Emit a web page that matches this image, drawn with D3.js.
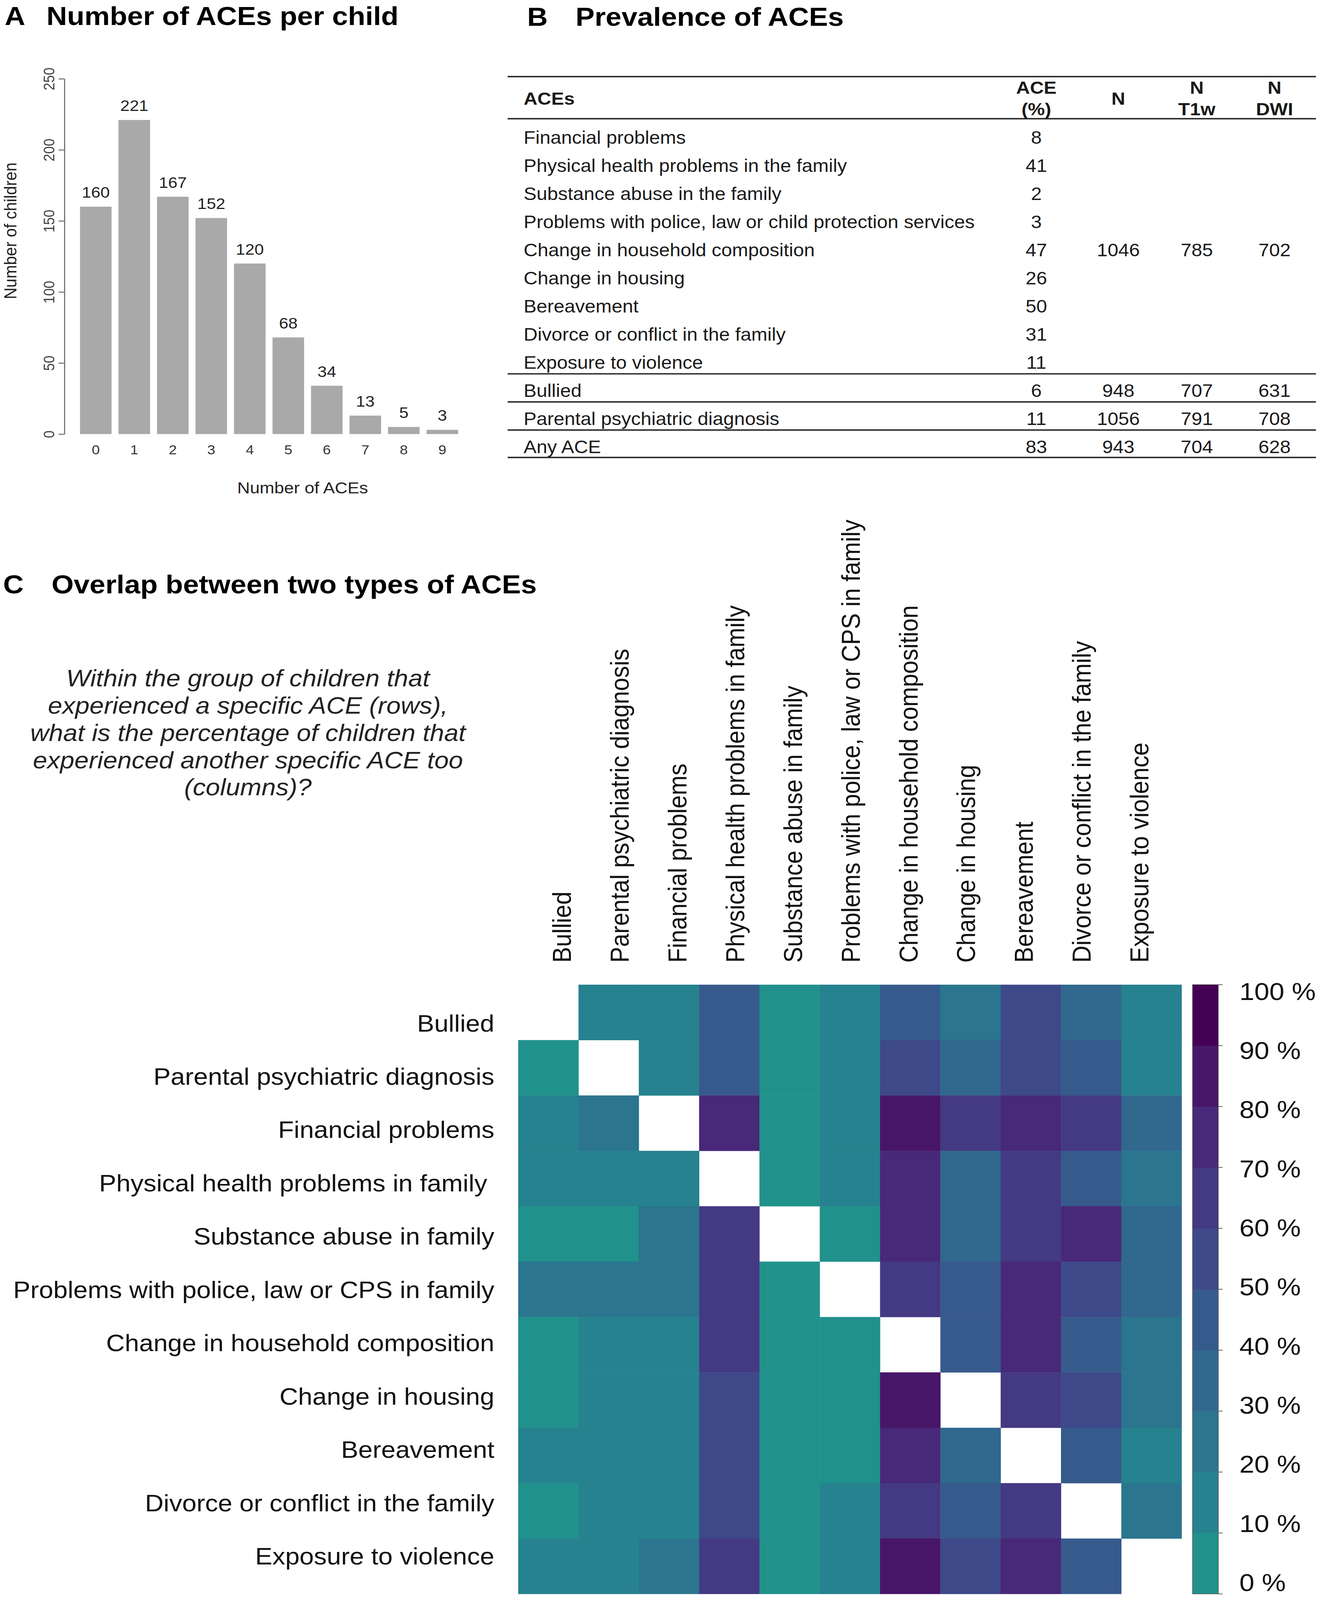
<!DOCTYPE html>
<html>
<head>
<meta charset="utf-8">
<script src="https://cdn.jsdelivr.net/npm/d3@7"></script>
<style>
  html, body { margin: 0; padding: 0; background: #fff; overflow: hidden; }
  svg { display: block; }
  text { font-family: "Liberation Sans", Arial, sans-serif; }
</style>
</head>
<body>
<script>
// panel A: number of ACEs per child
var aceCounts = ["0", "1", "2", "3", "4", "5", "6", "7", "8", "9"];
var childCounts = [160, 221, 167, 152, 120, 68, 34, 13, 5, 3];
var yTicksA = [0, 50, 100, 150, 200, 250];

// panel B: prevalence table
var tableLabels = ["Financial problems", "Physical health problems in the family", "Substance abuse in the family",
  "Problems with police, law or child protection services", "Change in household composition", "Change in housing",
  "Bereavement", "Divorce or conflict in the family", "Exposure to violence", "Bullied",
  "Parental psychiatric diagnosis", "Any ACE"];
var tablePct = [8, 41, 2, 3, 47, 26, 50, 31, 11, 6, 11, 83];
var tableN = [null, null, null, null, 1046, null, null, null, null, 948, 1056, 943];
var tableT1w = [null, null, null, null, 785, null, null, null, null, 707, 791, 704];
var tableDwi = [null, null, null, null, 702, null, null, null, null, 631, 708, 628];

// panel C: overlap between two ACEs (% of row group), diagonal empty
var aceTypes = ["Bullied", "Parental psychiatric diagnosis", "Financial problems", "Physical health problems in family",
  "Substance abuse in family", "Problems with police, law or CPS in family", "Change in household composition",
  "Change in housing", "Bereavement", "Divorce or conflict in the family", "Exposure to violence"];
var overlapPct = [
  [null, 15, 15, 45, 5, 15, 45, 25, 55, 35, 15],
  [5, null, 15, 45, 5, 15, 55, 35, 55, 45, 15],
  [15, 25, null, 75, 5, 15, 85, 65, 75, 65, 35],
  [15, 15, 15, null, 5, 15, 75, 35, 65, 45, 25],
  [5, 5, 25, 65, null, 5, 75, 35, 65, 75, 35],
  [25, 25, 25, 65, 5, null, 65, 45, 75, 55, 35],
  [5, 15, 15, 65, 5, 5, null, 45, 75, 45, 25],
  [5, 15, 15, 55, 5, 5, 85, null, 65, 55, 25],
  [15, 15, 15, 55, 5, 5, 75, 35, null, 45, 15],
  [5, 15, 15, 55, 5, 15, 65, 45, 65, null, 25],
  [15, 15, 25, 65, 5, 15, 85, 55, 75, 45, null]
];
var legendTicks = [0, 10, 20, 30, 40, 50, 60, 70, 80, 90, 100];
var subtitle = ["Within the group of children that", "experienced a specific ACE (rows),",
  "what is the percentage of children that", "experienced another specific ACE too", "(columns)?"];

(function () {
  var W = 3383, H = 4449;
  // the drawing keeps the 3383x4449 frame and is fitted to whatever viewport the browser gives
  var svg = d3.select("body").append("svg")
    .attr("width", window.innerWidth || W).attr("height", window.innerHeight || H)
    .attr("viewBox", "0 0 " + W + " " + H)
    .attr("preserveAspectRatio", "none");

  // ---------- titles
  function panelTitle(letter, title, x0, x1, y) {
    svg.append("text").attr("x", x0).attr("y", y)
      .style("font-size", "73px").style("font-weight", "bold").text(letter);
    svg.append("text").attr("x", x1).attr("y", y)
      .style("font-size", "73px").style("font-weight", "bold").text(title);
  }
  panelTitle("A", "Number of ACEs per child", 12, 119, 70);
  panelTitle("B", "Prevalence of ACEs", 1350, 1474, 72);
  panelTitle("C", "Overlap between two types of ACEs", 8, 132, 1650);

  // ---------- panel A
  var x = d3.scaleBand().domain(aceCounts).range([196, 1182]).paddingInner(0.18).paddingOuter(0.09);
  var y = d3.scaleLinear().domain([0, 250]).range([1207, 219]);
  var gA = svg.append("g");

  gA.selectAll("rect.bar")
    .data(childCounts)
    .enter().append("rect")
    .attr("class", "bar")
    .attr("x", function (d, i) { return x(aceCounts[i]); })
    .attr("y", function (d) { return y(d); })
    .attr("width", x.bandwidth())
    .attr("height", function (d) { return y(0) - y(d); })
    .attr("fill", "#a9a9a9");

  gA.selectAll("text.val")
    .data(childCounts)
    .enter().append("text")
    .attr("class", "val")
    .attr("x", function (d, i) { return x(aceCounts[i]) + x.bandwidth() / 2; })
    .attr("y", function (d) { return y(d) - 25; })
    .attr("text-anchor", "middle")
    .style("font-size", "43px").attr("fill", "#222")
    .text(function (d) { return d; });

  var yAxis = gA.append("g")
    .attr("transform", "translate(165,0)")
    .call(d3.axisLeft(y).tickValues(yTicksA).tickSize(15).tickSizeOuter(0));
  yAxis.select(".domain").attr("stroke", "#777").attr("stroke-width", 3);
  yAxis.selectAll(".tick line").attr("stroke", "#777").attr("stroke-width", 3);
  yAxis.selectAll(".tick text")
    .attr("x", null).attr("dy", null)
    .attr("transform", "translate(-26,0) rotate(-90)")
    .attr("text-anchor", "middle")
    .attr("fill", "#444")
    .style("font-size", "38px").style("font-family", "Liberation Sans, Arial, sans-serif");

  var xAxis = gA.append("g")
    .attr("transform", "translate(0,1207)")
    .call(d3.axisBottom(x).tickSize(0).tickPadding(30));
  xAxis.select(".domain").remove();
  xAxis.selectAll(".tick text")
    .attr("fill", "#333")
    .style("font-size", "37px").style("font-family", "Liberation Sans, Arial, sans-serif");

  gA.append("text")
    .attr("x", 775).attr("y", 1372)
    .attr("text-anchor", "middle")
    .style("font-size", "45px").attr("fill", "#222")
    .text("Number of ACEs");

  gA.append("text")
    .attr("transform", "translate(42,642) rotate(-90)")
    .attr("text-anchor", "middle")
    .style("font-size", "45px").attr("fill", "#222")
    .text("Number of children");

  // ---------- panel B
  var gB = svg.append("g").attr("fill", "#1a1a1a");
  var rowY = d3.scaleLinear().domain([0, tableLabels.length - 1]).range([383, 1243]);
  var colX = { label: 1341, pct: 2654, n: 2864, t1w: 3065, dwi: 3264 };
  var lineYs = [213, 330, rowY(8) + 31, rowY(9) + 31, rowY(10) + 31, rowY(11) + 29];

  gB.selectAll("line.rule")
    .data(lineYs)
    .enter().append("line")
    .attr("class", "rule")
    .attr("x1", 1300).attr("x2", 3370)
    .attr("y1", function (d) { return d; }).attr("y2", function (d) { return d; })
    .attr("stroke", "#2b2b2b").attr("stroke-width", 4);

  var head = [
    { x: colX.label, lines: ["ACEs"], anchor: "start" },
    { x: colX.pct, lines: ["ACE", "(%)"], anchor: "middle" },
    { x: colX.n, lines: ["N"], anchor: "middle" },
    { x: colX.t1w, lines: ["N", "T1w"], anchor: "middle" },
    { x: colX.dwi, lines: ["N", "DWI"], anchor: "middle" }
  ];
  head.forEach(function (h) {
    h.lines.forEach(function (t, k) {
      var by = h.lines.length === 1 ? 291 : (k === 0 ? 261 : 320);
      gB.append("text")
        .attr("x", h.x).attr("y", by)
        .attr("text-anchor", h.anchor)
        .style("font-size", "49px").style("font-weight", "bold")
        .text(t);
    });
  });

  [[tableLabels, colX.label, "start"], [tablePct, colX.pct, "middle"], [tableN, colX.n, "middle"],
   [tableT1w, colX.t1w, "middle"], [tableDwi, colX.dwi, "middle"]].forEach(function (c) {
    c[0].forEach(function (v, i) {
      if (v === null) return;
      gB.append("text")
        .attr("x", c[1]).attr("y", rowY(i) + 17)
        .attr("text-anchor", c[2])
        .style("font-size", "49.5px")
        .text(v);
    });
  });

  // ---------- panel C
  var gC = svg.append("g");
  gC.selectAll("text.sub")
    .data(subtitle)
    .enter().append("text")
    .attr("class", "sub")
    .attr("x", 635)
    .attr("y", function (d, i) { return 1908 + i * 76; })
    .attr("text-anchor", "middle")
    .style("font-size", "66px").style("font-style", "italic").attr("fill", "#222")
    .text(function (d) { return d; });

  var hx = d3.scaleBand().domain(aceTypes).range([1327, 3026]);
  var hy = d3.scaleBand().domain(aceTypes).range([2738, 4432]);
  var color = d3.scaleQuantize().domain([0, 100])
    .range(d3.range(10).map(function (i) { return d3.interpolateViridis(0.5 - i * 0.5 / 9); }));

  var cells = [];
  overlapPct.forEach(function (row, r) {
    row.forEach(function (v, c) { if (v !== null) cells.push({ r: aceTypes[r], c: aceTypes[c], v: v }); });
  });
  gC.selectAll("rect.cell")
    .data(cells)
    .enter().append("rect")
    .attr("class", "cell")
    .attr("x", function (d) { return hx(d.c); })
    .attr("y", function (d) { return hy(d.r); })
    .attr("width", hx.bandwidth() + 0.5)
    .attr("height", hy.bandwidth() + 0.5)
    .attr("fill", function (d) { return color(d.v); });

  // labels sit on a slightly tighter grid than the cells
  var rowLab = d3.scalePoint().domain(aceTypes).range([2845, 4327]);
  var colLab = d3.scalePoint().domain(aceTypes).range([1439, 2918]);

  gC.selectAll("text.rowlab")
    .data(aceTypes)
    .enter().append("text")
    .attr("class", "rowlab")
    .attr("x", 1266)
    .attr("y", function (d) { return rowLab(d); })
    .attr("dy", "0.35em")
    .attr("text-anchor", "end")
    .style("font-size", "66px").style("white-space", "pre").attr("fill", "#111")
    .text(function (d) { return d === "Physical health problems in family" ? d + " " : d; });

  gC.selectAll("text.collab")
    .data(aceTypes)
    .enter().append("text")
    .attr("class", "collab")
    .attr("transform", function (d) { return "translate(" + colLab(d) + ",2677) rotate(-90)"; })
    .attr("dy", "0.35em")
    .attr("text-anchor", "start")
    .style("font-size", "66px").attr("fill", "#111")
    .text(function (d) { return d; });

  // colour legend
  var ly = d3.scaleLinear().domain([0, 100]).range([4432, 2738]);
  var lyLab = d3.scaleLinear().domain([0, 100]).range([4400, 2756]);
  var bins = d3.range(10).map(function (i) { return i * 10; });
  gC.selectAll("rect.leg")
    .data(bins)
    .enter().append("rect")
    .attr("class", "leg")
    .attr("x", 3054).attr("width", 66)
    .attr("y", function (d) { return ly(d + 10); })
    .attr("height", function (d) { return ly(d) - ly(d + 10) + 0.5; })
    .attr("fill", function (d) { return color(d + 5); });
  gC.append("rect")
    .attr("x", 3054).attr("y", ly(100)).attr("width", 66).attr("height", ly(0) - ly(100))
    .attr("fill", "none").attr("stroke", "#555").attr("stroke-width", 1.5);
  gC.selectAll("line.legtick")
    .data(legendTicks)
    .enter().append("line")
    .attr("class", "legtick")
    .attr("x1", 3120).attr("x2", 3131)
    .attr("y1", function (d) { return ly(d); }).attr("y2", function (d) { return ly(d); })
    .attr("stroke", "#555").attr("stroke-width", 2);
  gC.selectAll("text.leglab")
    .data(legendTicks)
    .enter().append("text")
    .attr("class", "leglab")
    .attr("x", 3174)
    .attr("y", function (d) { return lyLab(d); })
    .attr("dy", "0.35em")
    .style("font-size", "69px").attr("fill", "#111")
    .text(function (d) { return d + " %"; });
}());
</script>
</body>
</html>
